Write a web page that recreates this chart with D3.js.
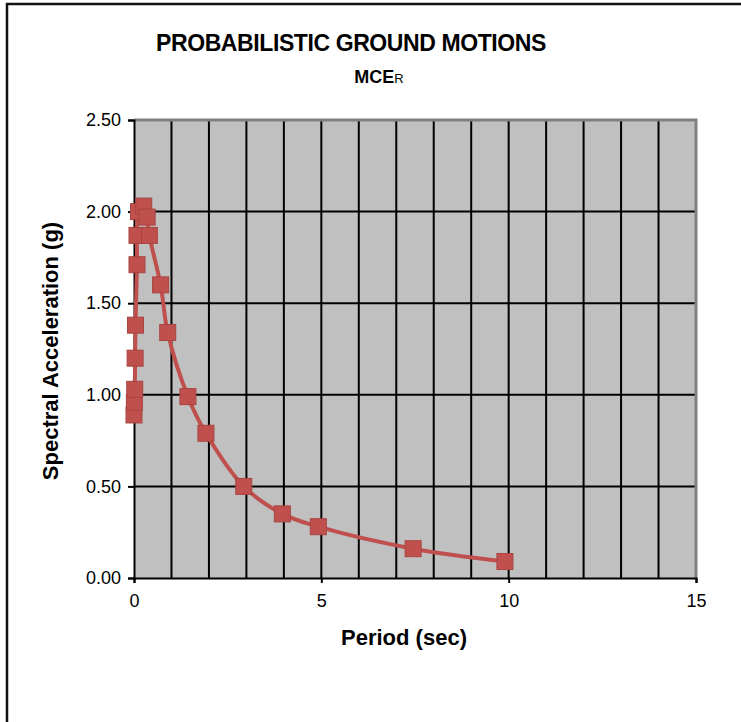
<!DOCTYPE html>
<html>
<head>
<meta charset="utf-8">
<script src="https://cdn.jsdelivr.net/npm/d3@7"></script>
<style>
  body { margin: 0; background: #fff; }
  text { font-family: "Liberation Sans", Arial, sans-serif; }
</style>
</head>
<body>
<div id="viz"></div>
<script>
// Data
const periods = [0, 0.01, 0.02, 0.03, 0.04, 0.08, 0.08, 0.12, 0.26, 0.35, 0.41, 0.71, 0.9, 1.44, 1.92, 2.93, 3.96, 4.92, 7.45, 9.9];
const spectralAccel = [0.89, 0.96, 1.03, 1.20, 1.38, 1.71, 1.87, 2.00, 2.03, 1.97, 1.87, 1.60, 1.34, 0.99, 0.79, 0.50, 0.35, 0.28, 0.16, 0.09];
const xTicks = [0, 5, 10, 15];
const xGrid = [1, 2, 3, 4, 5, 6, 7, 8, 9, 10, 11, 12, 13, 14];
const yTicks = [0, 0.5, 1.0, 1.5, 2.0, 2.5];

const width = 741;
const height = 722;
const margin = {top: 120, right: 45, bottom: 144, left: 134};
const lineColor = '#C0504D';

const svg = d3.select('#viz')
  .append('svg')
    .attr('width', width)
    .attr('height', height);

const data = periods.map((p, i) => ({t: p, sa: spectralAccel[i]}));

const xScale = d3.scaleLinear()
  .domain([0, 15])
  .range([margin.left, width - margin.right]);

const yScale = d3.scaleLinear()
  .domain([0, 2.5])
  .range([height - margin.bottom, margin.top]);

// outer frame (only top and left edges show in the picture)
svg.append('path')
  .attr('d', `M7,${height} L7,4 L${width},4`)
  .attr('fill', 'none')
  .attr('stroke', '#111')
  .attr('stroke-width', 2.5);

// plot background
svg.append('rect')
  .attr('x', xScale(0))
  .attr('y', yScale(2.5))
  .attr('width', xScale(15) - xScale(0))
  .attr('height', yScale(0) - yScale(2.5))
  .attr('fill', '#C0C0C0');

// vertical gridlines
svg.append('g')
  .selectAll('line')
  .data(xGrid)
  .join('line')
    .attr('x1', d => xScale(d))
    .attr('x2', d => xScale(d))
    .attr('y1', yScale(0))
    .attr('y2', yScale(2.5))
    .attr('stroke', '#000')
    .attr('stroke-width', 2);

// horizontal gridlines
svg.append('g')
  .selectAll('line')
  .data(yTicks.filter(d => d > 0 && d < 2.5))
  .join('line')
    .attr('x1', xScale(0))
    .attr('x2', xScale(15))
    .attr('y1', d => yScale(d))
    .attr('y2', d => yScale(d))
    .attr('stroke', '#000')
    .attr('stroke-width', 2);

// top & right plot border (grey)
svg.append('path')
  .attr('d', `M${xScale(0)},${yScale(2.5)} L${xScale(15)},${yScale(2.5)} L${xScale(15)},${yScale(0)}`)
  .attr('fill', 'none')
  .attr('stroke', '#808080')
  .attr('stroke-width', 3);

// y axis
const yAxis = svg.append('g')
  .attr('transform', `translate(${xScale(0)}, 0)`)
  .call(d3.axisLeft(yScale).tickValues(yTicks).tickFormat(d3.format('.2f')).tickSize(6).tickPadding(7));

// x axis
const xAxis = svg.append('g')
  .attr('transform', `translate(0, ${yScale(0)})`)
  .call(d3.axisBottom(xScale).tickValues(xTicks).tickSize(5).tickPadding(11));

[yAxis, xAxis].forEach(ax => {
  ax.select('.domain').attr('stroke', '#000').attr('stroke-width', 2);
  ax.selectAll('.tick line').attr('stroke', '#000').attr('stroke-width', 2);
  ax.selectAll('.tick text')
    .attr('fill', '#000')
    .style('font-family', '"Liberation Sans", Arial, sans-serif')
    .style('font-size', '18px');
});

// spectrum line
const lineGen = d3.line()
  .x(d => xScale(d.t))
  .y(d => yScale(d.sa))
  .curve(d3.curveCatmullRom.alpha(0.5));

svg.append('path')
  .attr('d', lineGen(data))
  .attr('fill', 'none')
  .attr('stroke', lineColor)
  .attr('stroke-width', 4)
  .attr('stroke-linejoin', 'round');

// square markers
const markerSize = 16;
svg.append('g')
  .selectAll('rect')
  .data(data)
  .join('rect')
    .attr('x', d => xScale(d.t) - markerSize / 2)
    .attr('y', d => yScale(d.sa) - markerSize / 2)
    .attr('width', markerSize)
    .attr('height', markerSize)
    .attr('fill', lineColor)
    .attr('stroke', '#A84441')
    .attr('stroke-width', 1);

// titles
svg.append('text')
  .attr('x', 351)
  .attr('y', 51)
  .attr('text-anchor', 'middle')
  .style('font-weight', 'bold')
  .style('font-size', '23px')
  .style('letter-spacing', '-0.4px')
  .text('PROBABILISTIC GROUND MOTIONS');

const sub = svg.append('text')
  .attr('x', 379)
  .attr('y', 83)
  .attr('text-anchor', 'middle')
  .style('font-weight', 'bold')
  .style('font-size', '18px');
sub.append('tspan').text('MCE');
sub.append('tspan').style('font-size', '13px').style('font-weight', 'normal').text('R');

// axis titles
svg.append('text')
  .attr('x', 404)
  .attr('y', 645)
  .attr('text-anchor', 'middle')
  .style('font-weight', 'bold')
  .style('font-size', '22px')
  .text('Period (sec)');

svg.append('text')
  .attr('transform', `translate(58, ${(yScale(0) + yScale(2.5)) / 2 + 2}) rotate(-90)`)
  .attr('text-anchor', 'middle')
  .style('font-weight', 'bold')
  .style('font-size', '22px')
  .text('Spectral Acceleration (g)');
</script>
</body>
</html>
